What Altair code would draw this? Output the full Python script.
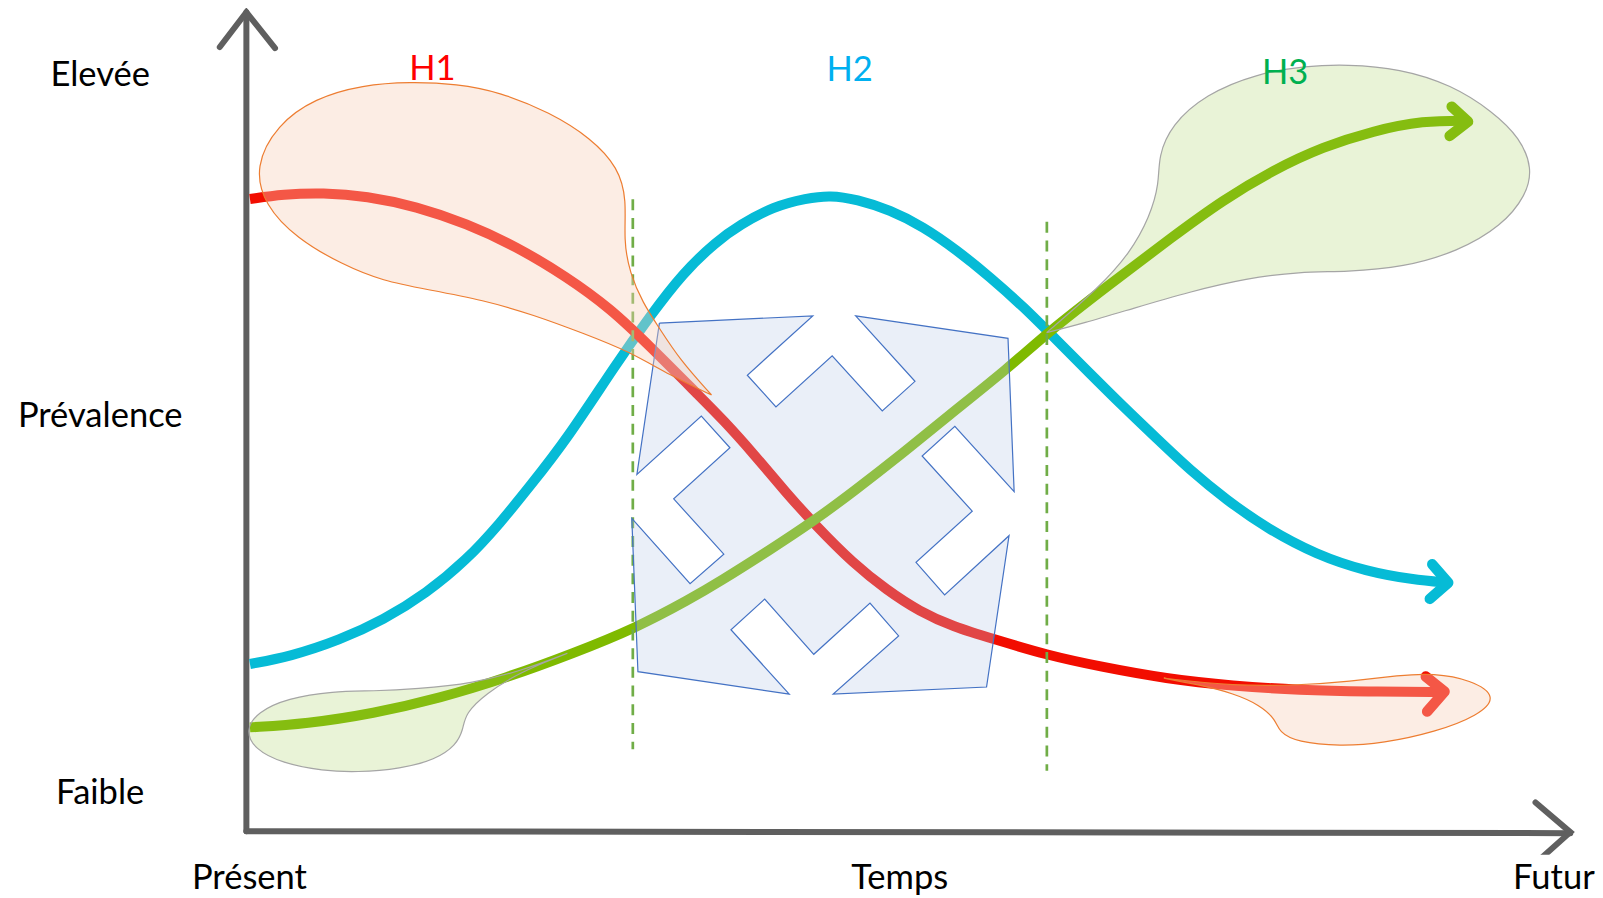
import altair as alt
import pandas as pd

SCALE = 1603 / 1568
W, H = 1587, 888
x_dom = [8 / SCALE, (8 + W) / SCALE]
y_dom = [(8 + H) / SCALE, 8 / SCALE]

# curves
red_x = [244.5, 277, 316, 358.6, 407.5, 456, 505, 554, 597, 636, 684.7, 707.5, 736.8, 769.4, 798.8, 834.6,
         867.2, 899.8, 932.4, 971.6, 1023.7, 1075.8, 1141, 1206, 1271.5, 1336.7, 1413]
red_y = [194.7, 190, 188.5, 191.7, 202, 218.5, 241, 270.6, 301.6, 339, 388, 410.8, 443.4, 482.5, 515, 551,
         577, 598.3, 613, 625, 640.7, 652, 664, 671, 675, 676.5, 677]
blue_x = [244.5, 283.6, 332.5, 375, 417, 456.4, 489, 518, 554, 603, 636, 668, 701, 723.8, 756.4, 789, 811.8,
          838, 870.5, 903, 935.7, 968, 1001, 1033.5, 1066, 1098.8, 1131.4, 1164, 1199.7, 1239, 1287.8, 1336.7, 1382, 1416]
blue_y = [649.5, 642.3, 626, 606.5, 580.4, 547.8, 512, 476, 430.4, 355.4, 309, 267, 236, 220, 202, 194, 191,
          195, 205.4, 221.7, 244.5, 270.6, 300, 332.6, 365.2, 397.8, 428.8, 459.8, 489, 516.7, 542.8, 559, 567, 570]
green_x = [244.5, 300, 365, 430, 495.5, 561, 622.7, 675, 704, 753, 795.5, 834.6, 883.5, 926, 988, 1023.8, 1082.5,
           1147.7, 1196.5, 1245.4, 1294.3, 1343.3, 1392, 1436]
green_y = [711.5, 708, 698, 683, 663, 639, 614, 586, 569, 538, 510, 481, 443, 408, 358.7, 326, 280.4,
           231, 195.6, 166.3, 143.5, 128, 118, 118]

# arrow heads
red_head_x = [1394.7, 1413, 1396]
red_head_y = [661.8, 676.5, 696]
blue_head_x = [1401, 1416.6, 1398.6]
blue_head_y = [552, 570, 585.8]
green_head_x = [1420, 1436, 1418]
green_head_y = [104.3, 119, 133]

# axes
axis_y_x = [241, 241]
axis_y_y = [12, 813]
axis_y_head_x = [215, 241, 269]
axis_y_head_y = [46, 12, 47]
axis_x_x = [241, 1536]
axis_x_y = [813, 815]
axis_x_head_x = [1502, 1536, 1500]
axis_x_head_y = [785, 814, 846]
cut_x = [1480, 1560]
cut_y = [836, 870]

# dashed separators
dash1_x = [619, 619]
dash1_y = [195, 733]
dash2_x = [1024, 1024]
dash2_y = [217, 754]

# central polygon
poly_x = [645, 795, 731, 759, 814, 863, 895, 837, 986, 992, 934, 902, 951, 896, 924, 987,
          965, 815, 879, 851, 796, 748, 715, 772, 624, 618, 675, 708, 659, 714, 686, 623, 645]
poly_y = [316, 309, 367, 398, 348, 402, 373, 309, 331, 481, 417, 446, 500, 550, 582, 524,
          672, 679, 622, 590, 640, 586, 616, 679, 657, 507, 571, 542, 488, 438, 407, 464, 316]

# teardrops
drop_h1_x = [696, 665, 644, 629, 616, 610, 613, 605, 578, 538, 489, 447, 401, 355, 308, 271, 249, 259, 290,
             335, 375, 417, 473, 522, 570.5, 616, 655, 696]
drop_h1_y = [386.4, 352, 319.5, 296.7, 267, 235, 195.6, 164, 135, 110, 90, 82, 80, 83, 96, 122, 163, 201, 233,
             259, 275, 283, 293.5, 308, 326, 344, 367, 386.4]
drop_h3_x = [1023.7, 1076, 1105, 1124.8, 1134, 1133, 1146, 1179, 1229, 1278, 1317, 1369.3, 1420, 1460,
             1487, 1499, 1493, 1469, 1426, 1373, 1317, 1271.5, 1219.4, 1164, 1108.5, 1059.6, 1023.7]
drop_h3_y = [325.4, 280.4, 247.8, 212, 179, 153, 122, 92.5, 72, 64.5, 63, 67, 83, 109,
             135, 164.6, 191, 221, 246, 261.5, 266, 265.7, 272.2, 285.3, 301.6, 316.3, 325.4]
drop_low_green_x = [555, 512, 463, 407.5, 365, 326, 281, 252, 240, 249, 276, 316, 349, 392, 426, 446, 453,
                    455, 476, 505, 534.7, 555]
drop_low_green_y = [639, 655.4, 668.4, 674, 676, 676, 683, 696.5, 714, 733, 746.5, 754, 755.5, 752, 743,
                    729, 714, 697.8, 678, 660, 647, 639]
drop_low_red_x = [1138.4, 1206, 1271.5, 1320, 1369, 1402, 1439, 1465, 1446, 1404, 1353, 1310.6, 1269,
                  1251, 1248, 1232.3, 1206, 1173.6, 1138.4]
drop_low_red_y = [663.4, 671, 670.3, 666.7, 660.5, 658.5, 665, 681.4, 700, 716, 727, 730, 726,
                  716, 704, 689.5, 678, 670, 663.4]

# labels
black_labels = ["Elevée", "Prévalence", "Faible", "Présent", "Temps", "Futur"]
black_x = [98, 98, 98, 244, 880, 1520]
black_y = [74.5, 407.5, 776.5, 860, 860, 860]
hyp_labels = ["H1", "H2", "H3"]
hyp_x = [423, 831, 1257]
hyp_y = [68, 69, 72.5]
hyp_colors = ["#FF0000", "#00B0F0", "#00B050"]

X = alt.X("x:Q", scale=alt.Scale(domain=x_dom), axis=None)
Y = alt.Y("y:Q", scale=alt.Scale(domain=y_dom), axis=None)


def frame(xs, ys):
    return pd.DataFrame({"x": xs, "y": ys, "i": range(len(xs))})


def path(xs, ys, **mark):
    return alt.Chart(frame(xs, ys)).mark_line(**mark).encode(x=X, y=Y, order="i:Q")


def text(labels, xs, ys, color):
    df = pd.DataFrame({"x": xs, "y": ys, "t": labels})
    return alt.Chart(df).mark_text(font="Lato", fontSize=34.5, color=color, align="center",
                                   baseline="middle").encode(x=X, y=Y, text="t:N")


GREY = "#5F5F5F"
RED, BLUE, GREEN = "#F20D00", "#06BBD6", "#7FBA00"
curve = dict(interpolate="basis", strokeWidth=10)
head = dict(strokeWidth=10.5, strokeCap="round", strokeJoin="round")
axis = dict(color=GREY, strokeWidth=6, strokeCap="round", strokeJoin="miter")
dash = dict(color="#70AD47", strokeWidth=2.7, strokeDash=[11, 7.7])
o_drop = dict(interpolate="basis", fill="#F7D0B9", fillOpacity=0.38, stroke="#ED7D31",
              strokeWidth=1.2, strokeOpacity=1)
g_drop = dict(interpolate="basis", fill="#9BC84A", fillOpacity=0.22, stroke="#A5A5A5",
              strokeWidth=1.2, strokeOpacity=1)

cut = alt.Chart(pd.DataFrame({"x": [cut_x[0]], "x2": [cut_x[1]], "y": [cut_y[0]], "y2": [cut_y[1]]})
                ).mark_rect(color="white").encode(x=X, x2="x2:Q", y=Y, y2="y2:Q")

layers = [
    path(axis_y_x, axis_y_y, **axis),
    path(axis_y_head_x, axis_y_head_y, **axis),
    path(axis_x_x, axis_x_y, **axis),
    path(axis_x_head_x, axis_x_head_y, **axis),
    cut,
    path(blue_x, blue_y, color=BLUE, **curve),
    path(blue_head_x, blue_head_y, color=BLUE, **head),
    path(red_x, red_y, color=RED, **curve),
    path(red_head_x, red_head_y, color=RED, **head),
    path(green_x, green_y, color=GREEN, **curve),
    path(green_head_x, green_head_y, color=GREEN, **head),
    path(dash1_x, dash1_y, **dash),
    path(dash2_x, dash2_y, **dash),
    path(poly_x, poly_y, fill="#BAC9E9", fillOpacity=0.30, stroke="#4472C4", strokeWidth=1.2),
    path(drop_h1_x, drop_h1_y, **o_drop),
    path(drop_low_red_x, drop_low_red_y, **o_drop),
    path(drop_h3_x, drop_h3_y, **g_drop),
    path(drop_low_green_x, drop_low_green_y, **g_drop),
    text(black_labels, black_x, black_y, "black"),
]
for lab, x, y, col in zip(hyp_labels, hyp_x, hyp_y, hyp_colors):
    layers.append(text([lab], [x], [y], col))

chart = alt.layer(*layers).properties(
    width=W, height=H, padding=0, autosize=alt.AutoSizeParams(type="none"),
    background="white",
).configure_view(stroke=None)

chart.save("out.html", embed_options={"renderer": "svg", "actions": False})
